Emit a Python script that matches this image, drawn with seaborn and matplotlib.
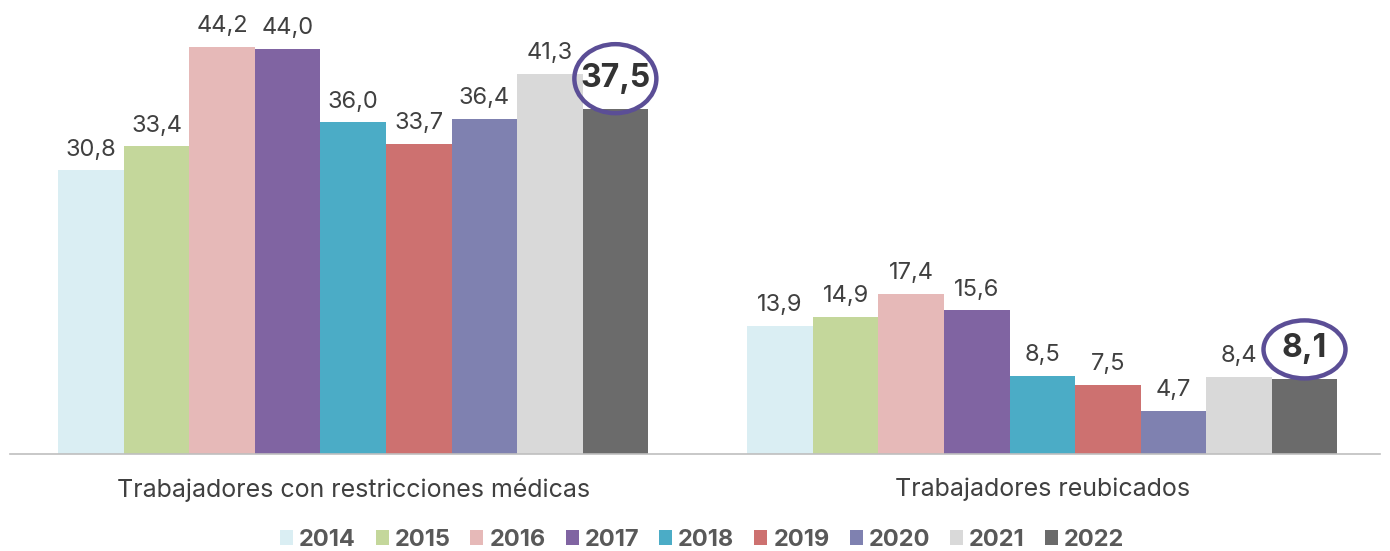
import pandas as pd
import seaborn as sns
import matplotlib.pyplot as plt
from matplotlib.patches import Ellipse
from matplotlib.transforms import ScaledTranslation

categorias = ['Trabajadores con restricciones médicas', 'Trabajadores reubicados']
anios = ['2014', '2015', '2016', '2017', '2018', '2019', '2020', '2021', '2022']
restricciones = [30.8, 33.4, 44.2, 44.0, 36.0, 33.7, 36.4, 41.3, 37.5]
reubicados = [13.9, 14.9, 17.4, 15.6, 8.5, 7.5, 4.7, 8.4, 8.1]
colores = ['#DAEEF3', '#C4D79B', '#E6B9B8', '#8064A2', '#4BACC6',
           '#CD7170', '#7F81B0', '#D9D9D9', '#6B6B6B']

df = pd.DataFrame({
    'categoria': [categorias[0]] * len(anios) + [categorias[1]] * len(anios),
    'anio': anios * 2,
    'valor': restricciones + reubicados,
})

sns.set_style('white')
plt.rcParams['font.family'] = ['Inter', 'DejaVu Sans']
texto = '#404040'

fig = plt.figure(figsize=(13.9, 5.51), dpi=100)
ax = fig.add_axes([10 / 1390, 97 / 551, 1370 / 1390, 454 / 551])

sns.barplot(data=df, x='categoria', y='valor', hue='anio', palette=colores,
            saturation=1, width=0.856, ax=ax, linewidth=0)

ax.set_xlim(-0.498, 1.49)
ax.set_ylim(0, 49.3)
ax.set_xlabel('')
ax.set_ylabel('')
ax.set_yticks([])
ax.tick_params(axis='x', length=0, pad=17, labelsize=18, labelcolor=texto)
for s in ['top', 'left', 'right']:
    ax.spines[s].set_visible(False)
ax.spines['bottom'].set_color('#BFBFBF')
ax.spines['bottom'].set_linewidth(1.2)

# valores en todas las barras menos la ultima serie
ultimo = len(ax.containers) - 1
for i, cont in enumerate(ax.containers):
    if i == ultimo:
        continue
    etiquetas = [f'{v:.1f}'.replace('.', ',') for v in cont.datavalues]
    ax.bar_label(cont, labels=etiquetas, padding=7, fontsize=17, color=texto)

# ultima serie: valor destacado dentro de un circulo
alto_elipse = [0.69, 0.58]
for j, barra in enumerate(ax.containers[ultimo]):
    v = ax.containers[ultimo].datavalues[j]
    xc = barra.get_x() + barra.get_width() / 2
    ax.annotate(f'{v:.1f}'.replace('.', ','), (xc, v), xytext=(0, 22),
                textcoords='offset points', ha='center', va='center',
                fontsize=23, fontweight='bold', color='#333333')
    trans = fig.dpi_scale_trans + ScaledTranslation(xc, v, ax.transData)
    ax.add_patch(Ellipse((0, 0.30), 0.82, alto_elipse[j], transform=trans,
                         facecolor='none', edgecolor='#5B4E96', linewidth=3.2,
                         clip_on=False))

leg = ax.legend(loc='center', bbox_to_anchor=(0.505, -0.189), ncol=9,
                frameon=False, handlelength=0.55, handleheight=0.55,
                handletextpad=0.25, columnspacing=0.85,
                prop={'size': 17, 'weight': 'bold'})
for t in leg.get_texts():
    t.set_color('#595959')

fig.savefig('out.png', dpi=100)
